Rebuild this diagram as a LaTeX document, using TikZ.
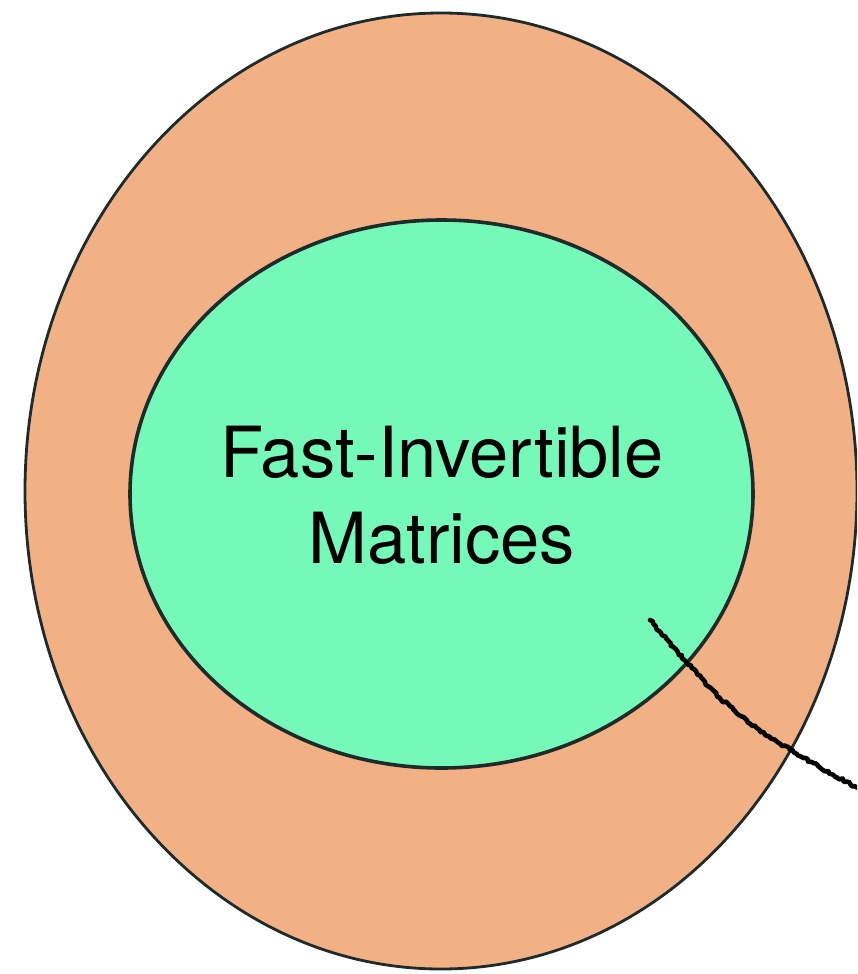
\documentclass[tikz,border=0pt]{standalone}
\usepackage{fontspec}
\setmainfont{TeX Gyre Heros}
\usetikzlibrary{shapes.geometric,decorations.pathmorphing}
\definecolor{outerfill}{HTML}{F2B184}
\definecolor{innerfill}{HTML}{74F9B8}
\definecolor{rim}{HTML}{1E2B2B}
\tikzset{
  setshape/.style={ellipse, draw=rim, inner sep=0pt},
  roughline/.style={draw=black, line width=4.6pt, line cap=round, line join=round,
    decorate, decoration={random steps, segment length=2.4pt, amplitude=1.3pt}},
  label/.style={font=\fontsize{70.5}{86}\selectfont, align=center, text=black}
}
\begin{document}
\begin{tikzpicture}[x=1pt, y=-1pt]
  \useasboundingbox (0,0) rectangle (857,974);
  \begin{scope}
    \clip (0,0) rectangle (857,974);
    \node[setshape, line width=2.8pt, fill=outerfill, minimum width=832pt, minimum height=956pt] (outer) at (441,491) {};
    \node[setshape, line width=3.6pt, fill=innerfill, minimum width=623pt, minimum height=548pt] (inner) at (441.5,494) {};
    \node[label] (name) at (442,495) {Fast-Invertible\\Matrices};
    \coordinate (tail) at (650,620);
    \coordinate (exit) at (866,793);
    \draw[roughline] (tail) .. controls (736,720) .. (exit);
  \end{scope}
\end{tikzpicture}
\end{document}
